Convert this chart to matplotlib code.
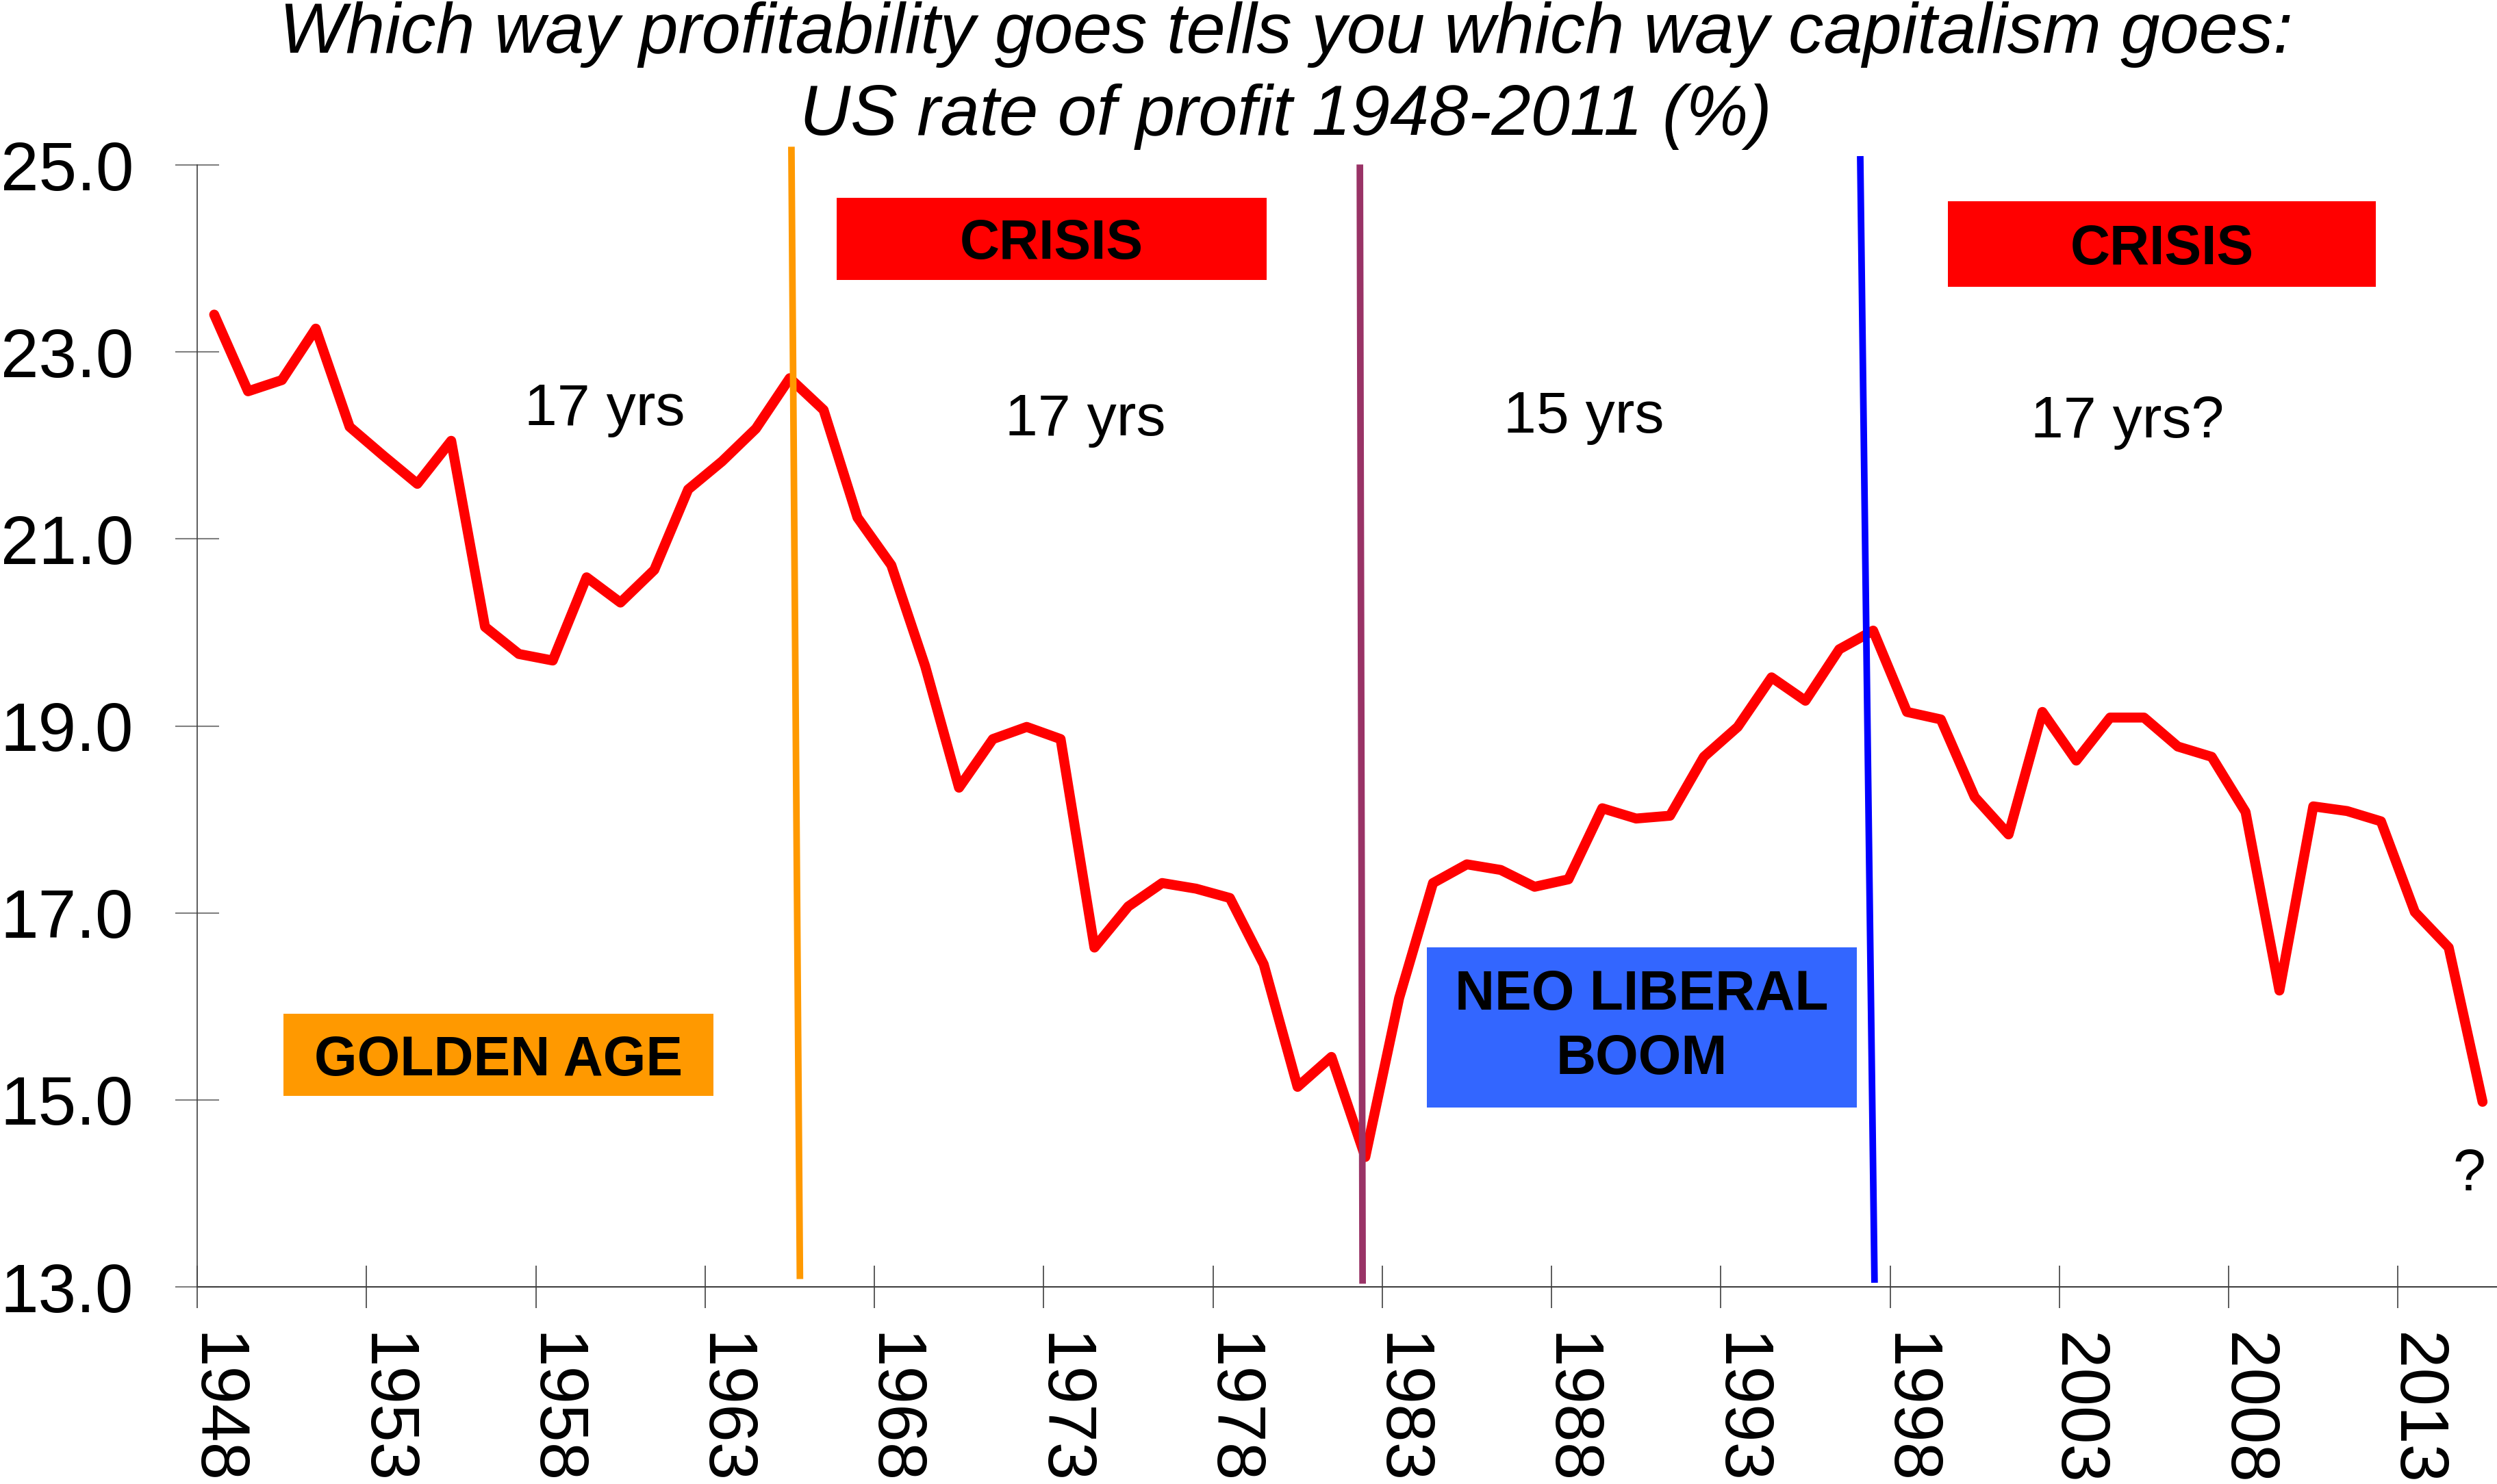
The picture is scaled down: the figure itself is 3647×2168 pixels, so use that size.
import matplotlib
matplotlib.use("Agg")
import matplotlib.pyplot as plt
from matplotlib.patches import Rectangle

plt.rcParams['font.family'] = ['Liberation Sans', 'DejaVu Sans']

# US rate of profit (%), one value per year
years = list(range(1948, 2016))
rate = [23.40, 22.58, 22.70, 23.25, 22.20, 21.89, 21.59, 22.05, 20.06, 19.77,
        19.70, 20.59, 20.32, 20.67, 21.53, 21.83, 22.18, 22.72, 22.38, 21.23,
        20.72, 19.64, 18.34, 18.86, 18.99, 18.86, 16.63, 17.07, 17.32, 17.26,
        17.16, 16.45, 15.14, 15.46, 14.39, 16.09, 17.32, 17.52, 17.46, 17.28,
        17.36, 18.12, 18.01, 18.04, 18.67, 18.99, 19.52, 19.27, 19.82, 20.02,
        19.15, 19.07, 18.24, 17.84, 19.15, 18.63, 19.09, 19.09, 18.78, 18.67,
        18.08, 16.17, 18.14, 18.09, 17.98, 17.01, 16.63, 14.98]
label_years = list(range(1948, 2014, 5))
y_ticks = [13, 15, 17, 19, 21, 23, 25]

# turning-point markers (x at top, x at bottom, y top, y bottom, colour)
turns = [(1965.55, 1965.80, 25.16, 13.12, '#FF9900'),
         (1982.34, 1982.42, 24.97, 13.07, '#993366'),
         (1997.12, 1997.54, 25.06, 13.08, '#0000FF')]

# period boxes: (x0, x1, y0, y1, colour, text)
boxes = [(1950.55, 1963.25, 15.045, 15.92, '#FF9900', 'GOLDEN AGE'),
         (1966.89, 1979.59, 23.77, 24.65, '#FF0000', 'CRISIS'),
         (1984.32, 1997.02, 14.92, 16.63, '#3366FF', 'NEO LIBERAL\nBOOM'),
         (1999.71, 2012.35, 23.70, 24.61, '#FF0000', 'CRISIS')]

# cycle lengths: (x, baseline y, text)
notes = [(1960.03, 22.22, '17 yrs'),
         (1974.24, 22.11, '17 yrs'),
         (1988.96, 22.14, '15 yrs'),
         (2005.02, 22.09, '17 yrs?'),
         (2015.10, 14.03, '?')]

fig = plt.figure(figsize=(36.47, 21.68), dpi=100)
ax = fig.add_axes([0.079, 0.1328, 0.921, 0.756])

x = [y + 0.5 for y in years]
ax.plot(x, rate, color='#FF0000', lw=10.5, solid_joinstyle='round',
        solid_capstyle='round', zorder=3)

for xt, xb, yt, yb, c in turns:
    ax.plot([xt, xb], [yt, yb], color=c, lw=7, clip_on=False, zorder=4)

for x0, x1, y0, y1, c, t in boxes:
    ax.add_patch(Rectangle((x0, y0), x1 - x0, y1 - y0, facecolor=c,
                           edgecolor='none', zorder=5))
    va = 'center' if '\n' in t else 'center_baseline'
    ax.text((x0 + x1) / 2, (y0 + y1) / 2, t, ha='center', va=va,
            fontsize=58, fontweight='bold', linespacing=1.3, zorder=6)

for nx, ny, t in notes:
    ax.text(nx, ny, t, ha='center', va='baseline', fontsize=62, zorder=6)

ax.set_xlim(1948, 1948 + (3647 - 288) / 49.45)
ax.set_ylim(13, 25)

ax.set_xticks(label_years)
ax.set_xticklabels([])
ax.set_xticks([y + 0.5 for y in label_years], minor=True)
ax.set_xticklabels([str(y) for y in label_years], minor=True,
                   rotation=-90, fontsize=72)
ax.tick_params(axis='x', which='major', direction='inout', length=45,
               width=1.2, color='#404040')
ax.tick_params(axis='x', which='minor', length=0, pad=48)

ax.set_yticks(y_ticks)
ax.set_yticklabels([f"{v:.1f}" for v in y_ticks], fontsize=72)
ax.tick_params(axis='y', direction='inout', length=46, width=1.5,
               color='#808080', pad=44)

for s in ['top', 'right']:
    ax.spines[s].set_visible(False)
ax.spines['left'].set_color('#404040')
ax.spines['left'].set_linewidth(1.2)
ax.spines['bottom'].set_color('#404040')
ax.spines['bottom'].set_linewidth(1.5)

fig.text(0.515, 1 - 77 / 2168,
         'Which way profitability goes tells you which way capitalism goes:',
         ha='center', va='baseline', fontsize=74, style='italic')
fig.text(0.515, 1 - 197 / 2168, 'US rate of profit 1948-2011 (%)',
         ha='center', va='baseline', fontsize=74, style='italic')

fig.savefig('out.png', dpi=100, facecolor='white')
